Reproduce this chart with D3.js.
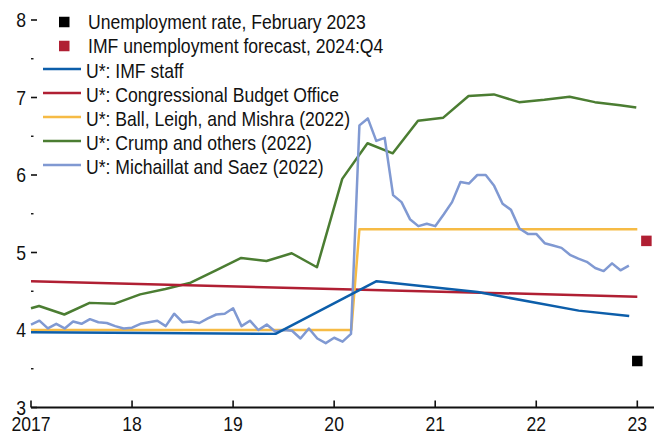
<!DOCTYPE html>
<html>
<head>
<meta charset="utf-8">
<script src="https://cdn.jsdelivr.net/npm/d3@7"></script>
<style>
  body { margin: 0; background: #fff; }
  svg text { font-family: "Liberation Sans Narrow", "Arial Narrow", "Liberation Sans", sans-serif; fill: #111; }
</style>
</head>
<body>
<svg width="654" height="432"></svg>
<script>
// year, rate
const imfStaff = [[2017.0, 3.97], [2018.2, 3.96], [2019.42, 3.95], [2020.42, 4.63], [2021.42, 4.49], [2022.42, 4.25], [2022.92, 4.18]];
const cbo = [[2017.0, 4.63], [2023.0, 4.43]];
const ballLeighMishra = [[2017.0, 4.0], [2020.17, 4.0], [2020.25, 5.3], [2023.0, 5.3]];
const crump = [[2017.0, 4.28], [2017.08, 4.31], [2017.33, 4.2], [2017.58, 4.35], [2017.83, 4.34], [2018.08, 4.46],
  [2018.33, 4.53], [2018.58, 4.61], [2018.83, 4.77], [2019.08, 4.93], [2019.33, 4.89], [2019.58, 4.99], [2019.83, 4.81],
  [2020.08, 5.95], [2020.33, 6.41], [2020.58, 6.28], [2020.83, 6.7], [2021.08, 6.74], [2021.33, 7.02], [2021.58, 7.04],
  [2021.83, 6.94], [2022.08, 6.97], [2022.33, 7.01], [2022.58, 6.94], [2022.83, 6.9], [2022.99, 6.87]];
// monthly from Jan 2017
const michaillatSaez = [4.07, 4.12, 4.02, 4.08, 4.02, 4.11, 4.08, 4.14, 4.10, 4.09, 4.05, 4.02,
  4.03, 4.08, 4.10, 4.12, 4.05, 4.21, 4.10, 4.11, 4.09, 4.15, 4.20, 4.21,
  4.28, 4.05, 4.12, 4.00, 4.07, 3.98, 4.00, 3.99, 3.89, 4.02, 3.89, 3.83,
  3.90, 3.85, 3.95, 6.64, 6.73, 6.44, 6.48, 5.74, 5.65, 5.43, 5.34, 5.37,
  5.34, 5.49, 5.65, 5.91, 5.89, 6.00, 6.00, 5.86, 5.63, 5.55, 5.31, 5.24,
  5.24, 5.12, 5.09, 5.06, 4.97, 4.92, 4.88, 4.80, 4.76, 4.86, 4.77, 4.83];
const unemploymentFeb2023 = [2023.0, 3.6];
const imfForecast = [2023.09, 5.15];

const xTicks = [2017, 2018, 2019, 2020, 2021, 2022, 2023];
const xTickLabels = ['2017', '18', '19', '20', '21', '22', '23'];
const yTicks = [3, 4, 5, 6, 7, 8];
const yMinorTicks = [3.5, 4.5, 5.5, 6.5, 7.5];

const squareNames = ['Unemployment rate, February 2023', 'IMF unemployment forecast, 2024:Q4'];
const squareColors = ['#000000', '#b01f33'];
const lineNames = ['U*: IMF staff', 'U*: Congressional Budget Office', 'U*: Ball, Leigh, and Mishra (2022)',
  'U*: Crump and others (2022)', 'U*: Michaillat and Saez (2022)'];
const lineColors = ['#0c5eaa', '#b01f33', '#f6bb45', '#4b7d32', '#8099d2'];

const svg = d3.select('svg');
const x = d3.scaleLinear().domain([2017, 2023]).range([31, 637.3]);
const y = d3.scaleLinear().domain([3, 8]).range([407.5, 20]);
const squeeze = 0.88; // no narrow font installed, so compress horizontally

const msPoints = michaillatSaez.map((v, i) => [2017 + i / 12, v]);
const series = [
  { data: crump, color: lineColors[3] },
  { data: cbo, color: lineColors[1] },
  { data: ballLeighMishra, color: lineColors[2] },
  { data: msPoints, color: lineColors[4] },
  { data: imfStaff, color: lineColors[0] }
];

const line = d3.line().x(d => x(d[0])).y(d => y(d[1]));

// y ticks (no axis line)
const yAxis = svg.append('g');
yAxis.selectAll('line.major').data(yTicks).enter().append('line')
  .attr('x1', 31).attr('x2', 37).attr('y1', d => y(d)).attr('y2', d => y(d))
  .attr('stroke', '#111').attr('stroke-width', 1.6);
yAxis.selectAll('line.minor').data(yMinorTicks).enter().append('line')
  .attr('x1', 31).attr('x2', 33.5).attr('y1', d => y(d)).attr('y2', d => y(d))
  .attr('stroke', '#111').attr('stroke-width', 1.4);
yAxis.selectAll('text').data(yTicks).enter().append('text')
  .attr('transform', d => `translate(26,${y(d)}) scale(${squeeze},1)`)
  .attr('dy', '0.35em')
  .attr('text-anchor', 'end').attr('font-size', 20)
  .text(d => d);

// x axis
const xAxis = svg.append('g');
xAxis.append('line').attr('x1', 31).attr('x2', 654).attr('y1', y(3)).attr('y2', y(3))
  .attr('stroke', '#111').attr('stroke-width', 1.8);
xAxis.selectAll('line.tick').data(xTicks).enter().append('line')
  .attr('x1', d => x(d)).attr('x2', d => x(d)).attr('y1', y(3)).attr('y2', y(3) - 7)
  .attr('stroke', '#111').attr('stroke-width', 1.6);
xAxis.selectAll('text').data(xTicks).enter().append('text')
  .attr('transform', d => `translate(${x(d)},431) scale(${squeeze},1)`)
  .attr('text-anchor', 'middle').attr('font-size', 20)
  .text((d, i) => xTickLabels[i]);

// lines
svg.append('g').selectAll('path').data(series).enter().append('path')
  .attr('d', d => line(d.data))
  .attr('fill', 'none')
  .attr('stroke', d => d.color)
  .attr('stroke-width', 2.5)
  .attr('stroke-linejoin', 'round');

// squares
const sq = 10.5;
svg.append('g').selectAll('rect').data([unemploymentFeb2023, imfForecast]).enter().append('rect')
  .attr('x', d => x(d[0]) - sq / 2).attr('y', d => y(d[1]) - sq / 2)
  .attr('width', sq).attr('height', sq)
  .attr('fill', (d, i) => squareColors[i]);

// legend
const legend = svg.append('g');
squareNames.forEach((name, i) => {
  const ly = 22 + i * 24;
  legend.append('rect').attr('x', 59).attr('y', ly - sq / 2).attr('width', sq).attr('height', sq)
    .attr('fill', squareColors[i]);
  legend.append('text').attr('transform', `translate(88,${ly}) scale(${squeeze},1)`)
    .attr('dy', '0.35em').attr('font-size', 20).text(name);
});
lineNames.forEach((name, i) => {
  const ly = 69 + i * 24;
  legend.append('line').attr('x1', 43).attr('x2', 81).attr('y1', ly).attr('y2', ly)
    .attr('stroke', lineColors[i]).attr('stroke-width', 2.5);
  legend.append('text').attr('transform', `translate(86,${ly + 2}) scale(${squeeze},1)`)
    .attr('dy', '0.35em').attr('font-size', 20).text(name);
});
</script>
</body>
</html>
